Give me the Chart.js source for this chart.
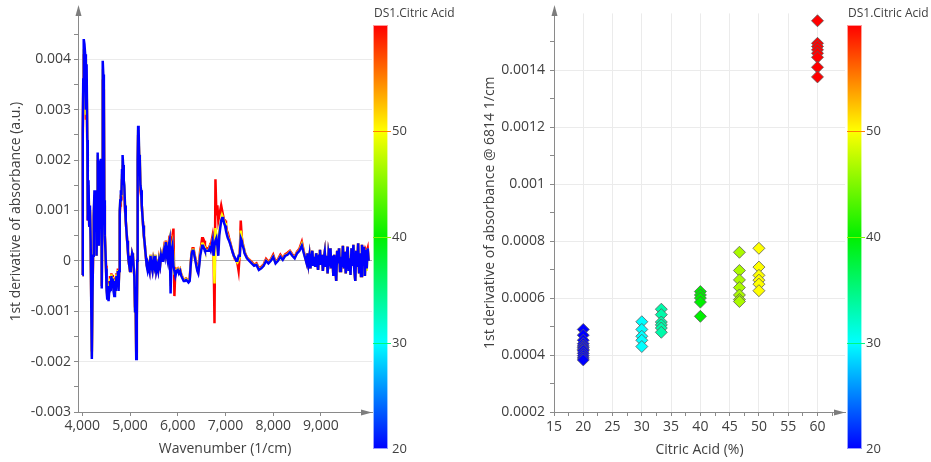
<!DOCTYPE html>
<html>
<head>
<meta charset="utf-8">
<script src="https://cdn.jsdelivr.net/npm/chart.js@4.4.0/dist/chart.umd.min.js"></script>
<style>
  html, body { margin: 0; padding: 0; background: #fff; }
  #wrap { position: relative; width: 931px; height: 462px; }
  #spectra { position: absolute; left: 0; top: 0; }
  #scatter { position: absolute; left: 465px; top: 0; }
</style>
</head>
<body>
<div id="wrap">
  <canvas id="spectra" width="465" height="462"></canvas>
  <canvas id="scatter" width="466" height="462"></canvas>
</div>
<script>
// wavenumber grid (1/cm) shared by the spectra
const wavenumber = [
  4000, 4010, 4020, 4030, 4045, 4060, 4075, 4090, 4105, 4115, 4130, 4145, 4160, 4175, 4190, 4200,
  4212, 4225, 4240, 4255, 4270, 4285, 4298, 4310, 4322, 4334, 4346, 4358, 4370, 4384, 4398,
  4408, 4418, 4428, 4440, 4452, 4462, 4472, 4485, 4497, 4510, 4522, 4535, 4550, 4565, 4580, 4595,
  4610, 4625, 4640, 4655, 4670, 4685, 4700, 4715, 4730, 4745, 4760, 4772, 4784, 4796, 4808, 4820, 4832,
  4844, 4856, 4868, 4880, 4895, 4910, 4925, 4940, 4955, 4970, 4985, 5000, 5015, 5030, 5045, 5060,
  5075, 5090, 5105, 5118, 5130, 5142, 5152, 5160, 5170, 5180, 5192, 5205, 5218, 5232, 5246, 5260, 5275,
  5290, 5305, 5320, 5335, 5350, 5370, 5390, 5410, 5430, 5450, 5470, 5490, 5510, 5530, 5550, 5570, 5590,
  5610, 5630, 5650, 5670, 5690, 5710, 5730, 5750, 5770, 5790, 5810, 5830, 5850, 5870, 5890, 5910, 5930, 5950,
  5975, 6000, 6025, 6050, 6075, 6100, 6125, 6150, 6175, 6200, 6225, 6250, 6270, 6290, 6310, 6330, 6350,
  6370, 6390, 6410, 6430, 6450, 6470, 6490, 6510, 6530, 6550, 6570, 6590, 6610, 6630, 6650, 6670, 6690,
  6710, 6730, 6750, 6770, 6790, 6810, 6830, 6850, 6870, 6890, 6910, 6930, 6950, 6970, 6990, 7010, 7030,
  7050, 7075, 7100, 7125, 7150, 7175, 7200, 7225, 7250, 7275, 7300, 7320, 7340, 7360, 7380, 7400, 7425,
  7450, 7500, 7550, 7600, 7650, 7700, 7750, 7800, 7850, 7900, 7950, 8000, 8050, 8100, 8150, 8200, 8250,
  8300, 8350, 8400, 8450, 8500, 8550, 8600, 8650, 8700,
  8720, 8740, 8760, 8780, 8800, 8820, 8840, 8860, 8880, 8900, 8920, 8940, 8960, 8980, 9000,
  9020, 9040, 9060, 9080, 9100, 9120, 9140, 9160, 9180, 9200, 9220, 9240, 9260, 9280, 9300,
  9320, 9340, 9360, 9380, 9400, 9420, 9440, 9460, 9480, 9500, 9520, 9540, 9560, 9580, 9600,
  9620, 9640, 9660, 9680, 9700, 9720, 9740, 9760, 9780, 9800, 9820, 9840, 9860, 9880, 9900,
  9920, 9940, 9960, 9980, 10000
];

// 1st derivative spectra, 20 % citric acid
const absd20 = [
  -0.00028, 0.0026, 0.0036, 0.0044, 0.0043, 0.0041, 0.0030, 0.0039, 0.0024, 0.0008, 0.0016, 0.0007, 0.0011, 0.0004, -0.0011, -0.00195,
  -0.0008, 0.0001, 0.0009, 0.0014, 0.0012, 0.0014, 0.0001, 0.0006, 0.00215, 0.0009, 0.0003, 0.0012, 0.00195, 0.0020, 0.0020,
  -0.00055, 0.0010, 0.00397, 0.0037, 0.00337, 0.0012, 0.0005, 0.0002, -0.00015, -0.0006, -0.00075, -0.0005, -0.0008, -0.0006, -0.0004, -0.0006,
  -0.0003, -0.0005, -0.00035, -0.0006, -0.0007, -0.0004, -0.0006, -0.0003, -0.00045, -0.0002, -0.0006, -0.0002, 0.0010, 0.0012, 0.0014, 0.0013, 0.0018,
  0.0021, 0.0019, 0.0016, 0.0015, 0.0011, 0.0008, 0.0006, 0.0004, 0.0002, 0.0, -0.0001, -0.0002, 0.0001, 0.0, 0.00015, 0.0001,
  -0.0001, -0.0003, -0.001, -0.0008, -0.00195, -0.0012, 0.0, 0.0020, 0.00268, 0.0026, 0.0021, 0.0020, 0.0015, 0.0014, 0.0011, 0.0009, 0.0007,
  0.0005, 0.00037, 0.0002, 0.00005, -0.0001, -0.0002, -0.0001, -0.0002, 0.0001, -0.0001, -0.0002, 0.0, -0.0001, 0.0001, -0.0002, -0.0001, -0.0002,
  0.0, -0.0001, 0.0001, 0.0, 0.0001, 0.0002, 0.0001, 0.00037, 0.0001, 0.0, 0.0003, 0.0004, -0.00065, 0.0002, 0.0003, -0.0001, -0.0002, -0.0003,
  -0.0002, -0.00018, -0.00025, -0.0002, -0.0003, -0.00035, -0.0004, -0.0004, -0.00038, -0.0004, -0.00043, -0.0004, -0.0001, 0.00013, 0.0002, 0.0002, 0.0001,
  0.0, -0.0001, -0.0002, -0.00025, -0.0001, 0.0001, 0.0002, 0.0003, 0.0003, 0.00025, 0.0002, 0.0002, 0.0002, 0.0002, 0.0002, 0.00025, 0.0002,
  0.0003, 0.0004, 0.0001, 0.0003, 0.0004, 0.00045, 0.0003, 0.0001, 0.0005, 0.00065, 0.0008, 0.00085, 0.00085, 0.00075, 0.0007, 0.0006, 0.00052,
  0.00045, 0.0004, 0.00033, 0.00025, 0.00017, 0.0001, 0.00006, 0.0, 0.0, 0.0001, 0.0001, 0.00045, 0.0004, 0.0003, 0.00025, 0.00015, 0.0001,
  0.00005, 0.0, -0.00005, -0.0001, -0.00008, -0.00018, -0.00015, -0.0001, 0.0, -0.00005, 0.0, 0.00008, -0.00005, 0.0, 0.00008, 0.00002, 0.0001,
  0.00012, 0.00017, 0.0001, 0.00005, 0.00015, 0.0002, 0.0003, 0.00012, -0.00005,
  0.00015, -0.00005, 0.0001, -0.00015, 0.00005, 0.0002, -0.0001, 0.00008, -0.00012, 0.00015, 0.0, -0.00018, 0.0001, 0.00022, -0.00008,
  0.00012, -0.0002, 0.00005, 0.00018, -0.00012, 0.0001, -0.00025, 0.00015, 0.00003, 0.00025, -0.00015, 0.0001, -0.0003, 0.00012, -0.0001,
  -0.0004, 0.0002, -0.00005, 0.00025, -0.0002, 0.00008, -0.00012, 0.0003, -0.00015, 0.00018, -0.00025, 0.0001, 0.00028, -0.0002, 0.00005,
  -0.00028, 0.00025, -0.0001, 0.00032, -0.0002, -0.0004, 0.0002, -0.00012, 0.00035, -0.00025, 0.00015, -0.0003, 0.00032, -0.0001, 0.00028,
  -0.0003, 0.00022, -0.00015, 0.00025, 0.0
];

// 50 % citric acid
const absd50 = [
  -0.00028, 0.0024, 0.0033, 0.0042, 0.0041, 0.0040, 0.0029, 0.0037, 0.0023, 0.0009, 0.0015, 0.0008, 0.0010, 0.0004, -0.0010, -0.0019,
  -0.0008, 0.0001, 0.0009, 0.0013, 0.0012, 0.0013, 0.0001, 0.0006, 0.0021, 0.0009, 0.0003, 0.0012, 0.0019, 0.0019, 0.0019,
  -0.0005, 0.0010, 0.0038, 0.0035, 0.0032, 0.0012, 0.0005, 0.0002, -0.00015, -0.00055, -0.0007, -0.00045, -0.00072, -0.00055, -0.00035, -0.00055,
  -0.00027, -0.00045, -0.00032, -0.00055, -0.00064, -0.00037, -0.00055, -0.00027, -0.00042, -0.00018, -0.00056, -0.0002, 0.0010, 0.0012, 0.0013, 0.0013, 0.0017,
  0.0020, 0.0018, 0.0016, 0.0015, 0.0011, 0.0008, 0.0006, 0.0004, 0.0002, 0.0, -0.0001, -0.0002, 0.0001, 0.0, 0.00015, 0.0001,
  -0.0001, -0.0003, -0.001, -0.0008, -0.0019, -0.0012, 0.0, 0.0019, 0.0026, 0.0025, 0.0021, 0.0020, 0.0015, 0.0014, 0.0011, 0.0009, 0.0007,
  0.0005, 0.00037, 0.0002, 0.00006, -0.00008, -0.00017, -0.00008, -0.00017, 0.00012, -0.00008, -0.00017, 0.00002, -0.00008, 0.00012, -0.00017, -0.00008, -0.00017,
  0.00002, -0.00008, 0.00012, 0.00002, 0.00012, 0.00022, 0.00012, 0.00038, 0.00012, 0.00002, 0.00032, 0.00042, -0.0005, 0.00025, 0.00035, 0.0001, -0.00025, -0.00025,
  -0.00018, -0.00016, -0.00023, -0.00018, -0.00028, -0.00033, -0.00038, -0.00038, -0.00036, -0.00038, -0.00041, -0.00038, -0.00008, 0.00015, 0.00022, 0.00022, 0.00012,
  0.00002, -0.00008, -0.00017, -0.00022, -0.00007, 0.00014, 0.00024, 0.00034, 0.00034, 0.00029, 0.00022, 0.00021, 0.00021, 0.00021, 0.00022, 0.00027, 0.00022,
  0.0003, 0.0004, 0.0002, -0.00045, 0.00065, 0.0005, 0.0004, 0.0002, 0.0006, 0.0007, 0.0008, 0.0009, 0.00085, 0.0008, 0.00075, 0.00065, 0.00055,
  0.00048, 0.00042, 0.00034, 0.00026, 0.00018, 0.0001, 0.00005, 0.0, -0.00003, 0.00002, 0.00008, 0.0006, 0.00045, 0.00033, 0.00027, 0.00017, 0.0001,
  0.00006, 0.00001, -0.00004, -0.00009, -0.00007, -0.00017, -0.00014, -0.00009, 0.00001, -0.00004, 0.00001, 0.00009, -0.00004, 0.00001, 0.00009, 0.00003, 0.00011,
  0.00013, 0.00018, 0.00011, 0.00006, 0.00016, 0.00021, 0.00033, 0.00013, -0.00004,
  0.00015, -0.00005, 0.0001, -0.00015, 0.00005, 0.0002, -0.0001, 0.00008, -0.00012, 0.00015, 0.0, -0.00018, 0.0001, 0.00022, -0.00008,
  0.00012, -0.0002, 0.00005, 0.00018, -0.00012, 0.0001, -0.00025, 0.00015, 0.00003, 0.00025, -0.00015, 0.0001, -0.0003, 0.00012, -0.0001,
  -0.0004, 0.0002, -0.00005, 0.00025, -0.0002, 0.00008, -0.00012, 0.0003, -0.00015, 0.00018, -0.00025, 0.0001, 0.00028, -0.0002, 0.00005,
  -0.00028, 0.00025, -0.0001, 0.00032, -0.0002, -0.0004, 0.0002, -0.00012, 0.00035, -0.00025, 0.00015, -0.0003, 0.00032, -0.0001, 0.00028,
  -0.0003, 0.00022, -0.0002, 0.00025, 0.0
];

// 60 % citric acid
const absd60 = [
  -0.00028, 0.0025, 0.0034, 0.0041, 0.0040, 0.0038, 0.0028, 0.0036, 0.0022, 0.0008, 0.0015, 0.0007, 0.0010, 0.0004, -0.0010, -0.0018,
  -0.0008, 0.0001, 0.0008, 0.0013, 0.0011, 0.0013, 0.0001, 0.0006, 0.0020, 0.0009, 0.0003, 0.0011, 0.0018, 0.0019, 0.0019,
  -0.0005, 0.0010, 0.0036, 0.0034, 0.0031, 0.0011, 0.0005, 0.0002, -0.0001, -0.0005, -0.00065, -0.0004, -0.0006, -0.00045, -0.0003, -0.0005,
  -0.00025, -0.0004, -0.00028, -0.0005, -0.0006, -0.00033, -0.0005, -0.00025, -0.0004, -0.00015, -0.00052, -0.0002, 0.0009, 0.0011, 0.0013, 0.0012, 0.0016,
  0.0019, 0.0017, 0.0015, 0.0014, 0.0010, 0.0008, 0.0006, 0.0004, 0.0002, 0.0, -0.0001, -0.0002, 0.0001, 0.0, 0.00015, 0.0001,
  -0.0001, -0.0003, -0.0009, -0.0008, -0.0018, -0.0011, 0.0, 0.0018, 0.0025, 0.0024, 0.0020, 0.0019, 0.0014, 0.0013, 0.0011, 0.0009, 0.0007,
  0.0005, 0.00037, 0.0002, 0.00006, -0.00008, -0.00015, -0.00008, -0.00018, 0.00012, -0.00008, -0.00018, 0.00002, -0.00008, 0.00012, -0.00018, -0.00008, -0.00018,
  0.00003, -0.00008, 0.00012, 0.00003, 0.00012, 0.00025, 0.00015, 0.0004, 0.00015, 0.00005, 0.00035, 0.0005, -0.0004, 0.0004, 0.0005, 0.00064, -0.0007, -0.00015,
  -0.00017, -0.00015, -0.00022, -0.00017, -0.00027, -0.00032, -0.00037, -0.00037, -0.00035, -0.00037, -0.0004, -0.00037, -0.00006, 0.00017, 0.00025, 0.00025, 0.00014,
  0.00005, -0.00005, -0.00015, -0.0002, 0.0, 0.0002, 0.0003, 0.00045, 0.00045, 0.0004, 0.0003, 0.00025, 0.00025, 0.00022, 0.00025, 0.0003, 0.00025,
  0.0004, 0.0005, 0.0003, -0.00124, 0.00162, 0.0009, 0.0011, 0.0008, 0.0009, 0.0010, 0.0011, 0.0010, 0.0009, 0.0008, 0.0008, 0.0007, 0.0006,
  0.00055, 0.00045, 0.00036, 0.00027, 0.00018, 0.0001, 0.00003, 0.00002, -0.00005, -0.0002, 0.00015, 0.0008, 0.00048, 0.00035, 0.00028, 0.00018, 0.00012,
  0.00007, 0.00002, -0.00002, -0.00008, -0.00005, -0.00015, -0.00012, -0.00007, 0.00004, -0.00002, 0.00003, 0.00012, -0.00002, 0.00003, 0.00012, 0.00005, 0.00013,
  0.00016, 0.0002, 0.00013, 0.00008, 0.00018, 0.00024, 0.00038, 0.00015, -0.00003,
  0.00015, -0.00005, 0.0001, -0.00015, 0.00005, 0.0002, -0.0001, 0.00008, -0.00012, 0.00015, 0.0, -0.00018, 0.0001, 0.00022, -0.00008,
  0.00012, -0.0002, 0.00005, 0.00018, -0.00012, 0.0001, -0.00025, 0.00015, 0.00003, 0.00025, -0.00015, 0.0001, -0.0003, 0.00012, -0.0001,
  -0.0004, 0.0002, -0.00005, 0.00025, -0.0002, 0.00008, -0.00012, 0.0003, -0.00015, 0.00018, -0.00025, 0.0001, 0.00028, -0.0002, 0.00005,
  -0.00028, 0.00025, -0.0001, 0.00032, -0.0002, -0.0004, 0.0002, -0.00012, 0.00035, -0.00025, 0.00015, -0.0003, 0.00032, -0.0001, 0.00028,
  -0.0003, 0.00022, 0.00018, 0.00025, 0.0
];

// scatter: derivative value at 6814 1/cm for each sample, grouped by citric acid %
const acidLevels = [20, 30, 33.33, 40, 46.67, 50, 60];
const peak20 = [0.00049, 0.00047, 0.000452, 0.00044, 0.000432, 0.000426, 0.00042, 0.000415, 0.000406, 0.000398, 0.00039, 0.000383];
const peak30 = [0.000517, 0.00049, 0.000466, 0.000452, 0.00043];
const peak33 = [0.000561, 0.000542, 0.000516, 0.000506, 0.000495, 0.00048];
const peak40 = [0.000623, 0.000611, 0.0006, 0.000586, 0.000536];
const peak47 = [0.000761, 0.000697, 0.000664, 0.000637, 0.000611, 0.000595, 0.000588];
const peak50 = [0.000775, 0.000709, 0.00068, 0.000663, 0.000649, 0.000626];
const peak60 = [0.001574, 0.001495, 0.001484, 0.001472, 0.00146, 0.001446, 0.001411, 0.001377];
const peakGroups = [peak20, peak30, peak33, peak40, peak47, peak50, peak60];

// ticks
const leftXTicks = [4000, 5000, 6000, 7000, 8000, 9000];
const leftYTicks = [-0.003, -0.002, -0.001, 0, 0.001, 0.002, 0.003, 0.004];
const leftYMinor = [-0.0025, -0.0015, -0.0005, 0.0005, 0.0015, 0.0025, 0.0035, 0.0045];
const rightXTicks = [15, 20, 25, 30, 35, 40, 45, 50, 55, 60];
const rightXMinor = [17.5, 22.5, 27.5, 32.5, 37.5, 42.5, 47.5, 52.5, 57.5, 62.5];
const rightYTicks = [0.0002, 0.0004, 0.0006, 0.0008, 0.001, 0.0012, 0.0014];
const rightYMinor = [0.0003, 0.0005, 0.0007, 0.0009, 0.0011, 0.0013, 0.0015];
const colorbarTicks = [20, 30, 40, 50];
const colorbarRange = [20, 60];

// colour scale blue -> cyan -> green -> yellow -> red
const cmapStops = [[20, [0, 0, 255]], [30, [0, 255, 255]], [40, [0, 240, 0]], [50, [255, 255, 0]], [60, [255, 0, 0]]];

function acidColor(v) {
  for (let i = 1; i < cmapStops.length; i++) {
    const [v0, c0] = cmapStops[i - 1];
    const [v1, c1] = cmapStops[i];
    if (v <= v1) {
      const t = Math.max(0, (v - v0) / (v1 - v0));
      const c = c0.map((a, k) => Math.round(a + (c1[k] - a) * t));
      return 'rgb(' + c.join(',') + ')';
    }
  }
  return 'rgb(255,0,0)';
}

Chart.defaults.font.family = "'Open Sans', 'Noto Sans', sans-serif";
Chart.defaults.font.size = 14;
Chart.defaults.color = '#404040';

function setTicks(major, minor) {
  return function (scale) {
    const list = major.map(v => ({ value: v })).concat(minor.map(v => ({ value: v, minor: true })));
    list.sort((a, b) => a.value - b.value);
    scale.ticks = list;
  };
}

function gridColor(c) {
  if (!c.tick || c.tick.minor) return 'rgba(0,0,0,0)';
  return '#ebebeb';
}

// axis arrows + colour bar
const decorations = {
  id: 'decorations',
  afterDraw(chart, args, o) {
    const ctx = chart.ctx;
    const a = chart.chartArea;
    ctx.save();
    ctx.fillStyle = '#7d7d7d';
    ctx.beginPath();
    ctx.moveTo(a.left + 0.5, 5);
    ctx.lineTo(a.left - 2.5, 16);
    ctx.lineTo(a.left + 3.5, 16);
    ctx.closePath();
    ctx.fill();
    ctx.beginPath();
    ctx.moveTo(a.right, a.bottom + 0.5);
    ctx.lineTo(a.right - 11, a.bottom - 2.5);
    ctx.lineTo(a.right - 11, a.bottom + 3.5);
    ctx.closePath();
    ctx.fill();

    const [lo, hi] = colorbarRange;
    const h = o.bottom - o.top;
    const g = ctx.createLinearGradient(0, o.bottom, 0, o.top);
    cmapStops.forEach(([v, c]) => g.addColorStop((v - lo) / (hi - lo), 'rgb(' + c.join(',') + ')'));
    ctx.fillStyle = g;
    ctx.fillRect(o.left, o.top, o.width, h);
    ctx.strokeStyle = 'rgba(255,255,255,0.6)';
    ctx.lineWidth = 1;
    ctx.strokeRect(o.left + 0.5, o.top + 0.5, o.width - 1, h - 1);

    ctx.font = "13px 'Open Sans', sans-serif";
    ctx.fillStyle = '#404040';
    ctx.textBaseline = 'middle';
    ctx.textAlign = 'left';
    colorbarTicks.forEach(v => {
      const y = Math.round(o.bottom - (v - lo) / (hi - lo) * h) + 0.5;
      if (v > lo) {
        ctx.strokeStyle = acidColor(v + 5);
        ctx.beginPath();
        ctx.moveTo(o.left, y);
        ctx.lineTo(o.left + o.width + 3, y);
        ctx.stroke();
      }
      ctx.fillText(String(v), o.left + o.width + 4, y);
    });
    ctx.font = "12px 'Open Sans', sans-serif";
    ctx.fillText('DS1.Citric Acid', o.left + 1, 14);
    ctx.restore();
  }
};

function lineSet(values, level) {
  return {
    label: level + ' %',
    data: wavenumber.map((w, i) => ({ x: w, y: values[i] })),
    borderColor: acidColor(level),
    borderWidth: 2.5,
    pointRadius: 0,
    tension: 0,
    fill: false
  };
}

new Chart(document.getElementById('spectra'), {
  type: 'line',
  data: {
    datasets: [lineSet(absd20, 20), lineSet(absd50, 50), lineSet(absd60, 60)]
  },
  plugins: [decorations],
  options: {
    responsive: false,
    animation: false,
    devicePixelRatio: 1,
    layout: { padding: { left: 0, top: 8, right: 93, bottom: 0 } },
    plugins: {
      legend: { display: false },
      tooltip: { enabled: false },
      decorations: { left: 373, width: 15, top: 25, bottom: 449 }
    },
    scales: {
      x: {
        type: 'linear',
        min: 3910,
        max: 10070,
        afterBuildTicks: setTicks(leftXTicks, []),
        afterFit: s => { s.height = 50; },
        border: { color: '#8a8a8a' },
        grid: { color: 'rgba(0,0,0,0)', tickColor: '#8a8a8a', tickLength: 4 },
        ticks: { autoSkip: false, maxRotation: 0, padding: 2, callback: v => v.toLocaleString('en-US') },
        title: { display: true, text: 'Wavenumber (1/cm)', padding: { top: 0, bottom: 5 } }
      },
      y: {
        min: -0.003,
        max: 0.00495,
        afterBuildTicks: setTicks(leftYTicks, leftYMinor),
        afterFit: s => { s.width = 78; },
        border: { color: '#8a8a8a' },
        grid: {
          color: c => (c.tick && c.tick.value === 0 ? '#b0b0b0' : gridColor(c)),
          tickColor: '#8a8a8a',
          tickLength: 4
        },
        ticks: {
          autoSkip: false,
          padding: 3,
          callback: (v, i, t) => (t[i].minor ? '' : String(+v.toFixed(4)))
        },
        title: { display: true, text: '1st derivative of absorbance (a.u.)', padding: { top: 8, bottom: 0 } }
      }
    }
  }
});

new Chart(document.getElementById('scatter'), {
  type: 'scatter',
  data: {
    datasets: acidLevels.map((lvl, i) => ({
      label: lvl + ' %',
      data: peakGroups[i].map(y => ({ x: lvl, y: y })),
      pointStyle: 'rectRot',
      pointRadius: 6,
      backgroundColor: acidColor(lvl),
      borderColor: '#5c5c5c',
      borderWidth: 0.8
    }))
  },
  plugins: [decorations],
  options: {
    responsive: false,
    animation: false,
    devicePixelRatio: 1,
    layout: { padding: { left: 0, top: 5, right: 86, bottom: 0 } },
    plugins: {
      legend: { display: false },
      tooltip: { enabled: false },
      decorations: { left: 382, width: 15, top: 25, bottom: 449 }
    },
    scales: {
      x: {
        type: 'linear',
        min: 15,
        max: 64.7,
        afterBuildTicks: setTicks(rightXTicks, rightXMinor),
        afterFit: s => { s.height = 50; },
        border: { color: '#8a8a8a' },
        grid: { color: gridColor, tickColor: '#8a8a8a', tickLength: 4 },
        ticks: { autoSkip: false, maxRotation: 0, padding: 3, callback: (v, i, t) => (t[i].minor ? '' : String(v)) },
        title: { display: true, text: 'Citric Acid (%)', padding: { top: 0, bottom: 4 } }
      },
      y: {
        min: 0.0002,
        max: 0.0016,
        afterBuildTicks: setTicks(rightYTicks, rightYMinor),
        afterFit: s => { s.width = 89; },
        border: { color: '#8a8a8a' },
        grid: { color: gridColor, tickColor: '#8a8a8a', tickLength: 4 },
        ticks: {
          autoSkip: false,
          padding: 5,
          callback: (v, i, t) => (t[i].minor ? '' : String(+v.toFixed(5)))
        },
        title: { display: true, text: '1st derivative of absorbance @ 6814 1/cm', padding: { top: 17, bottom: 0 } }
      }
    }
  }
});
</script>
</body>
</html>
